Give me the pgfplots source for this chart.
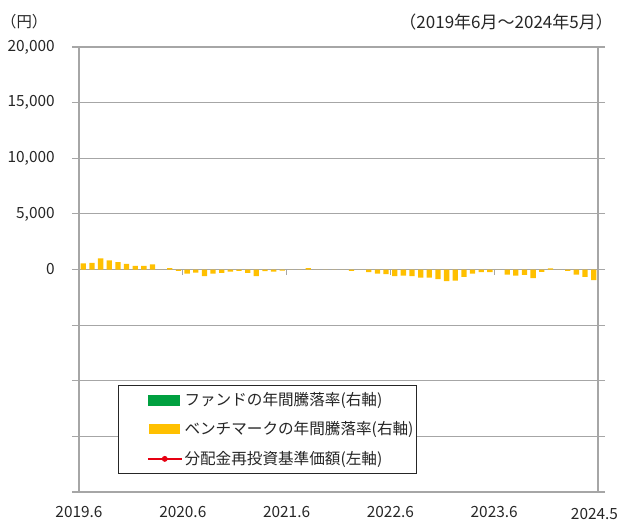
\documentclass[border=0pt]{standalone}
\usepackage{pgfplots}
\usepackage{pgfplotstable}
\pgfplotsset{compat=1.18}
\usepackage{fontspec}
\setmainfont{Noto Sans CJK JP}
\definecolor{barY}{HTML}{FFC000}
\definecolor{fundG}{HTML}{00A040}
\definecolor{navR}{HTML}{E60012}
\definecolor{gridC}{HTML}{A6A6A6}

% benchmark annual return (plotted in left-axis units), months 2019.6 ... 2024.5
\pgfplotstableread{
m v
0 540
1 585
2 990
3 810
4 657
5 504
6 324
7 324
8 450
9 0
10 135
11 -117
12 -360
13 -270
14 -603
15 -360
16 -297
17 -180
18 -117
19 -297
20 -603
21 -153
22 -180
23 -90
24 0
25 0
26 117
27 0
28 0
29 0
30 0
31 -117
32 0
33 -243
34 -360
35 -423
36 -603
37 -540
38 -603
39 -720
40 -720
41 -873
42 -1053
43 -990
44 -657
45 -360
46 -243
47 -243
48 0
49 -450
50 -540
51 -477
52 -783
53 -207
54 108
55 0
56 -117
57 -450
58 -657
59 -963
}\bench

\begin{document}
\fontsize{15.4}{18}\selectfont
\begin{tikzpicture}
\begin{axis}[
  scale only axis, width=519pt, height=445pt,
  xmin=-0.5, xmax=59.5, ymin=-20000, ymax=20000,
  scaled y ticks=false,
  axis line style={draw=gridC, line width=1.2pt},
  ytick={-20000,-15000,...,20000},
  yticklabels={{},{},{},{},0,{5,000},{10,000},{15,000},{20,000}},
  ymajorgrids, grid style={gridC, line width=1.2pt},
  ytick pos=both, yticklabel pos=left, tick align=outside,
  major tick length=7pt,
  ytick style={gridC, line width=1.2pt},
  xtick={-0.5,11.5,23.5,35.5,47.5,59.5},
  xticklabels={2019.6,2020.6,2021.6,2022.6,2023.6,\raisebox{-2pt}{\hspace*{-7pt}2024.5}},
  xtick style={draw=none},
  tick label style={font=\fontsize{15.4}{18}\selectfont, text=black!85},
  /pgf/number format/assume math mode=true,
  yticklabel style={anchor=east, xshift=-12pt},
  xticklabel style={anchor=base, yshift=-18pt},
  legend style={at={(0.0751,0.0404)}, anchor=south west,
    draw=black!85, line width=0.8pt, inner xsep=1pt, inner ysep=5pt,
    row sep=10pt, font=\fontsize{15.6}{18}\selectfont, text=black!85},
  legend cell align=left,
  clip=false,
]
\addlegendimage{legend image code/.code={\path (0pt,0pt); \fill[fundG] (29pt,-5pt) rectangle (60pt,5pt);}}
\addlegendentry{ファンドの年間騰落率(右軸)}
\addplot[ybar, bar width=5.3pt, fill=barY, draw=none,
  legend image code/.code={\path (0pt,0pt); \fill[barY] (29pt,-5pt) rectangle (60pt,5pt);}]
  table[x=m, y=v] {\bench};
\addlegendentry{ベンチマークの年間騰落率(右軸)}
\addlegendimage{legend image code/.code={\path (0pt,0pt); \draw[navR, line width=1.5pt] (28pt,0pt) -- (62pt,0pt); \fill[navR] (45pt,0pt) circle (2.5pt);}}
\addlegendentry{分配金再投資基準価額(左軸)}
\draw[gridC, line width=1.2pt] (axis cs:11.5,0) -- ([yshift=-5pt]axis cs:11.5,0);
\draw[gridC, line width=1.2pt] (axis cs:23.5,0) -- ([yshift=-5pt]axis cs:23.5,0);
\draw[gridC, line width=1.2pt] (axis cs:35.5,0) -- ([yshift=-5pt]axis cs:35.5,0);
\draw[gridC, line width=1.2pt] (axis cs:47.5,0) -- ([yshift=-5pt]axis cs:47.5,0);
\end{axis}
\node[anchor=west, inner sep=0pt, text=black!85] at (-78pt,470pt) {（円）};
\node[anchor=east, inner sep=0pt, text=black!85, font=\fontsize{17}{20}\selectfont] at (534pt,470pt) {（2019年6月～2024年5月）};
\pgfresetboundingbox
\path (-79pt,-30pt) rectangle (541pt,492pt);
\end{tikzpicture}
\end{document}
